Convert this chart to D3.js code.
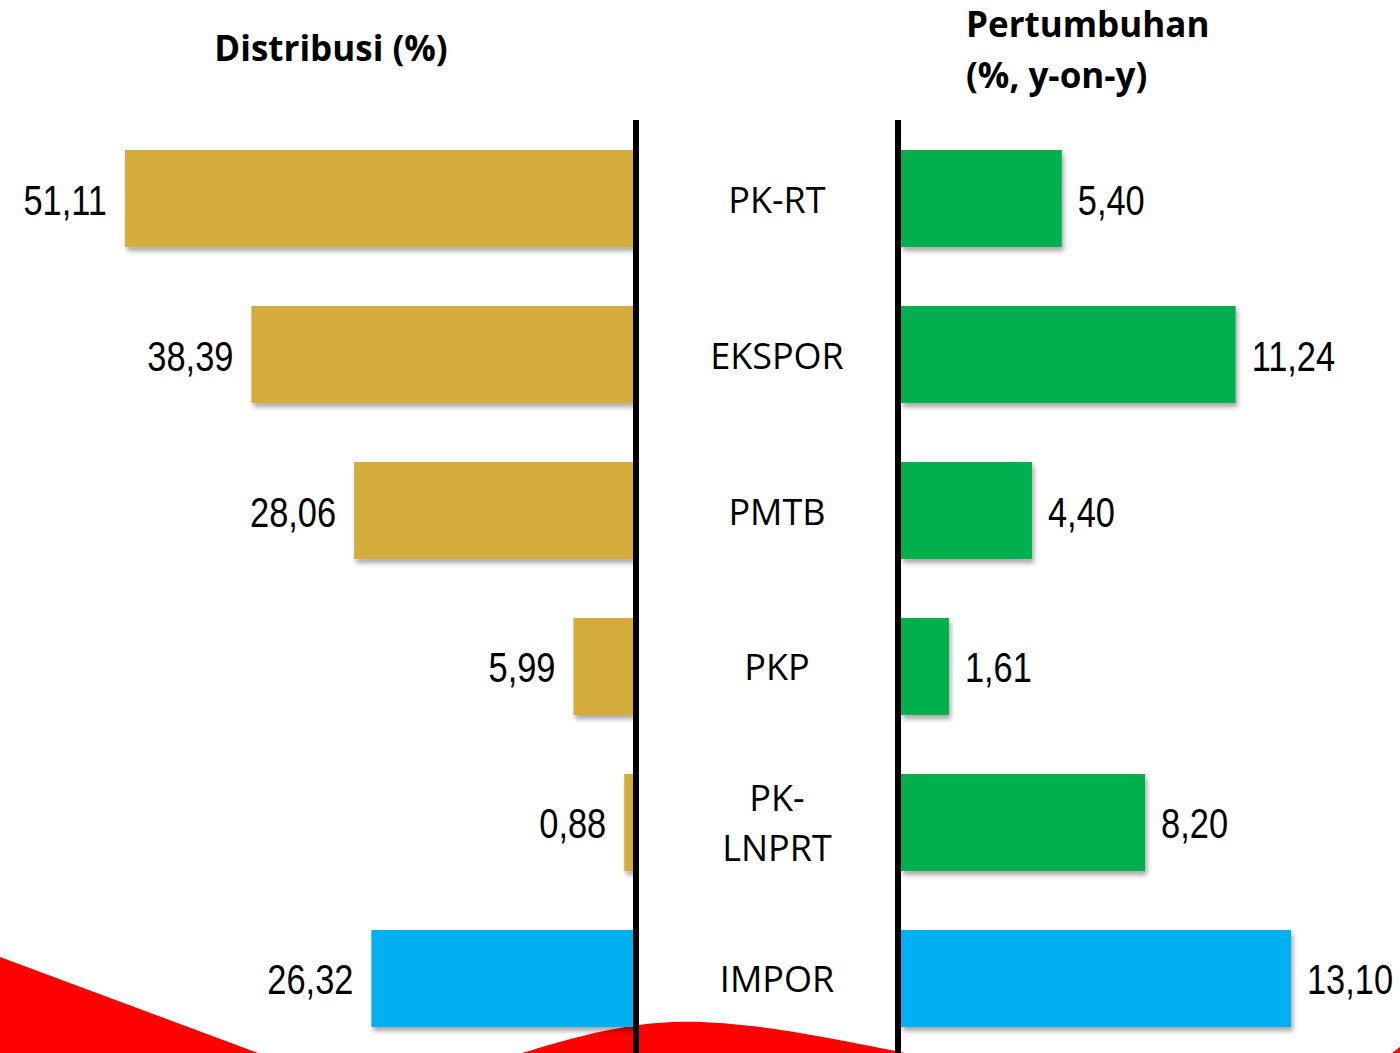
<!DOCTYPE html>
<html>
<head>
<meta charset="utf-8">
<script src="https://cdn.jsdelivr.net/npm/d3@7"></script>
<style>
  body { margin: 0; background: #fff; }
  svg { display: block; }
</style>
</head>
<body>
<svg></svg>
<script>
let categories = ["PK-RT", "EKSPOR", "PMTB", "PKP", "PK-LNPRT", "IMPOR"];
let categoryLines = [["PK-RT"], ["EKSPOR"], ["PMTB"], ["PKP"], ["PK-", "LNPRT"], ["IMPOR"]];
let distribusi = [51.11, 38.39, 28.06, 5.99, 0.88, 26.32];
let pertumbuhan = [5.40, 11.24, 4.40, 1.61, 8.20, 13.10];
let distribusiLabels = ["51,11", "38,39", "28,06", "5,99", "0,88", "26,32"];
let pertumbuhanLabels = ["5,40", "11,24", "4,40", "1,61", "8,20", "13,10"];
let leftColors = ["#d3ac3a", "#d3ac3a", "#d3ac3a", "#d3ac3a", "#d3ac3a", "#00b0f0"];
let rightColors = ["#00b050", "#00b050", "#00b050", "#00b050", "#00b050", "#00b0f0"];

let svgWidth = 1400, svgHeight = 1053;
let leftAxisX = 636, rightAxisX = 898;

let svg = d3.select("svg")
    .attr("width", svgWidth)
    .attr("height", svgHeight);

// Drop shadow for bars
let defs = svg.append("defs");
defs.append("filter")
    .attr("id", "shadow")
    .attr("x", "-10%").attr("y", "-10%")
    .attr("width", "120%").attr("height", "130%")
    .append("feDropShadow")
    .attr("dx", 2).attr("dy", 4)
    .attr("stdDeviation", 2.5)
    .attr("flood-color", "#000")
    .attr("flood-opacity", 0.35);

// Decorative red shapes at the bottom
let line = d3.line().curve(d3.curveBasis);
svg.append("path")
    .attr("d", "M0,957 L258,1053 L0,1053 Z")
    .attr("fill", "#ff0000");
svg.append("path")
    .attr("d", line([[522, 1053], [600, 1030], [680, 1018], [780, 1028], [905, 1053]]) + "Z")
    .attr("fill", "#ff0000");
svg.append("path")
    .attr("d", "M1392,1053 L1400,1047 L1400,1053 Z")
    .attr("fill", "#ff0000");

// Vertical band scale for categories
let yScale = d3.scaleBand()
    .domain(categories)
    .range([150, 1027])
    .paddingInner(0.378)
    .paddingOuter(0);

// Horizontal scales
let xLeft = d3.scaleLinear()
    .domain([0, 51.11])
    .range([0, 508]);

let xRight = d3.scaleLinear()
    .domain([0, 13.10])
    .range([0, 390]);

let leftEdge = leftAxisX - 3;
let rightEdge = rightAxisX + 3;

// Left bars (Distribusi)
svg.selectAll("rect.left")
    .data(distribusi)
    .enter()
    .append("rect")
    .attr("class", "left")
    .attr("x", d => leftEdge - xLeft(d))
    .attr("y", (d, i) => yScale(categories[i]))
    .attr("width", d => xLeft(d))
    .attr("height", yScale.bandwidth())
    .attr("fill", (d, i) => leftColors[i])
    .attr("filter", "url(#shadow)");

// Right bars (Pertumbuhan)
svg.selectAll("rect.right")
    .data(pertumbuhan)
    .enter()
    .append("rect")
    .attr("class", "right")
    .attr("x", rightEdge)
    .attr("y", (d, i) => yScale(categories[i]))
    .attr("width", d => xRight(d))
    .attr("height", yScale.bandwidth())
    .attr("fill", (d, i) => rightColors[i])
    .attr("filter", "url(#shadow)");

// Axis lines
[leftAxisX, rightAxisX].forEach(x => {
    svg.append("line")
        .attr("x1", x).attr("x2", x)
        .attr("y1", 120).attr("y2", svgHeight)
        .attr("stroke", "#000")
        .attr("stroke-width", 6);
});

// Value labels (narrow font)
let narrow = 0.8;
svg.selectAll("text.lval")
    .data(distribusi)
    .enter()
    .append("text")
    .attr("class", "lval")
    .attr("transform", (d, i) => {
        let x = leftEdge - xLeft(d) - 18;
        let y = yScale(categories[i]) + yScale.bandwidth() / 2 + 16;
        return `translate(${x},${y}) scale(${narrow},1)`;
    })
    .attr("text-anchor", "end")
    .style("font-family", "'Liberation Sans', Arial, sans-serif")
    .style("font-size", "43px")
    .attr("fill", "#000")
    .text((d, i) => distribusiLabels[i]);

svg.selectAll("text.rval")
    .data(pertumbuhan)
    .enter()
    .append("text")
    .attr("class", "rval")
    .attr("transform", (d, i) => {
        let x = rightEdge + xRight(d) + 16;
        let y = yScale(categories[i]) + yScale.bandwidth() / 2 + 16;
        return `translate(${x},${y}) scale(${narrow},1)`;
    })
    .attr("text-anchor", "start")
    .style("font-family", "'Liberation Sans', Arial, sans-serif")
    .style("font-size", "43px")
    .attr("fill", "#000")
    .text((d, i) => pertumbuhanLabels[i]);

// Category labels between the axes
let catText = svg.selectAll("text.cat")
    .data(categoryLines)
    .enter()
    .append("text")
    .attr("class", "cat")
    .attr("text-anchor", "middle")
    .style("font-family", "'Open Sans', sans-serif")
    .style("font-size", "36px")
    .attr("fill", "#000")
    .attr("transform", (d, i) => {
        let y = yScale(categories[i]) + yScale.bandwidth() / 2 + 14;
        return `translate(${(leftAxisX + rightAxisX) / 2 + 10},${y})`;
    });

catText.selectAll("tspan")
    .data(d => d.map((t, j) => ({ t: t, j: j, n: d.length })))
    .enter()
    .append("tspan")
    .attr("x", 0)
    .attr("y", d => (d.j - (d.n - 1) / 2) * 50)
    .text(d => d.t);

// Titles
let titleFont = "'Open Sans', sans-serif";
svg.append("text")
    .attr("x", 331)
    .attr("y", 61)
    .attr("text-anchor", "middle")
    .style("font-family", titleFont)
    .style("font-weight", "bold")
    .style("font-size", "35px")
    .text("Distribusi (%)");

svg.append("text")
    .attr("x", 966)
    .attr("y", 37)
    .style("font-family", titleFont)
    .style("font-weight", "bold")
    .style("font-size", "35px")
    .text("Pertumbuhan");

svg.append("text")
    .attr("x", 966)
    .attr("y", 88)
    .style("font-family", titleFont)
    .style("font-weight", "bold")
    .style("font-size", "35px")
    .text("(%, y-on-y)");
</script>
</body>
</html>
